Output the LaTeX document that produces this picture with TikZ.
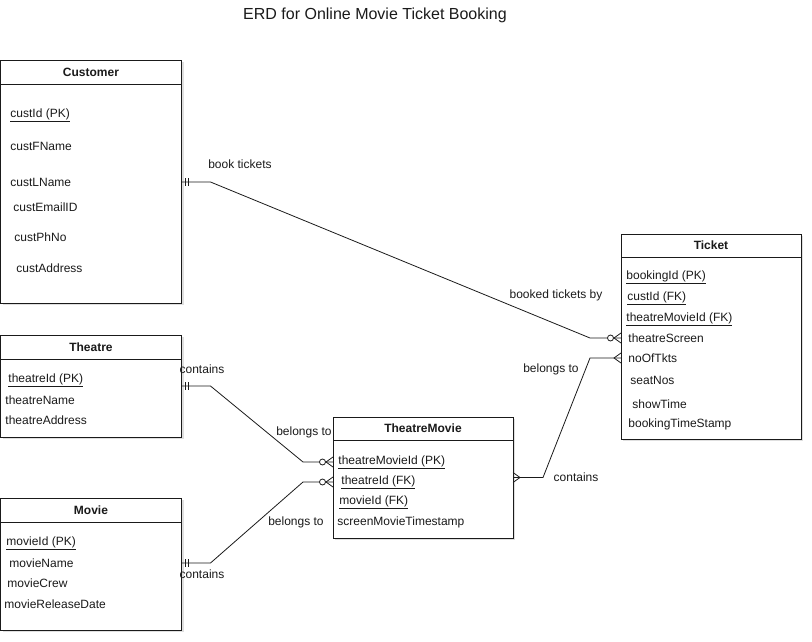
\documentclass[tikz,border=0pt]{standalone}
\usepackage{fontspec}
\setmainfont{Liberation Sans}
\usetikzlibrary{calc,shadows}
\definecolor{erline}{HTML}{1A1A1A}

\begin{document}
\begin{tikzpicture}[x=1pt,y=-1pt,font=\fontsize{12}{14}\selectfont,line width=0.9pt,color=erline]

\tikzset{
ent/.style={
    draw,
    fill=white,
    minimum width=181pt,
    inner sep=0pt,
    outer sep=0pt,
    anchor=north west,
    drop shadow={shadow xshift=2pt,shadow yshift=-2pt,opacity=0.25}
},
hdr/.style={
    draw,
    minimum width=181pt,
    minimum height=24pt,
    inner sep=0pt,
    outer sep=0pt,
    anchor=north west,
    font=\fontsize{12}{14}\selectfont\bfseries
},
attr/.style={anchor=west,inner sep=0pt},
lbl/.style={inner sep=0pt},
rel/.style={draw,line width=0.8pt},
pics/one/.style={code={\draw[line width=0.8pt] (4,-4)--(4,4) (7,-4)--(7,4);}},
pics/many/.style={code={\draw[line width=0.8pt] (0,-5)--(7,0)--(0,5);}},
pics/zmany/.style={code={
    \draw[line width=0.8pt] (0,-5)--(7,0)--(0,5);
    \draw[line width=0.8pt,fill=white] (10.5,0) circle (3pt);
}}
}

\useasboundingbox (0,0) rectangle (812,642);

\node (title) at (375,15) {\fontsize{16}{19}\selectfont ERD for Online Movie Ticket Booking};

% entities
\node[ent,minimum height=243pt] (cust) at (0.5,60) {};
\node[hdr] (custh) at (cust.north west) {Customer};
\node[attr] (cid) at (10,115) {\underline{custId (PK)}};
\node[attr] (cfn) at (10,146) {custFName};
\node[attr] (cln) at (10,182) {custLName};
\node[attr] (cem) at (13,207) {custEmailID};
\node[attr] (cph) at (14,237) {custPhNo};
\node[attr] (cad) at (16,268) {custAddress};

\node[ent,minimum width=180pt,minimum height=205pt] (tkt) at (621,234) {};
\node[hdr,minimum width=180pt,minimum height=23pt] (tkth) at (tkt.north west) {Ticket};
\node[attr] (tbid) at (626,277) {\underline{bookingId (PK)}};
\node[attr] (tcid) at (627,298) {\underline{custId (FK)}};
\node[attr] (ttm) at (626,319) {\underline{theatreMovieId (FK)}};
\node[attr] (tsc) at (628,338) {theatreScreen};
\node[attr] (tno) at (628,358) {noOfTkts};
\node[attr] (tsn) at (630,380) {seatNos};
\node[attr] (tst) at (632,404) {showTime};
\node[attr] (tbt) at (628,424) {bookingTimeStamp};

\node[ent,minimum height=102pt] (th) at (0.5,335) {};
\node[hdr] (thh) at (th.north west) {Theatre};
\node[attr] (thid) at (8,380) {\underline{theatreId (PK)}};
\node[attr] (thnm) at (5,400) {theatreName};
\node[attr] (thad) at (5,420) {theatreAddress};

\node[ent,minimum width=180pt,minimum height=121pt] (tm) at (333,417) {};
\node[hdr,minimum width=180pt,minimum height=23pt] (tmh) at (tm.north west) {TheatreMovie};
\node[attr] (tmid) at (338,462) {\underline{theatreMovieId (PK)}};
\node[attr] (tmth) at (341,482) {\underline{theatreId (FK)}};
\node[attr] (tmmv) at (339,502) {\underline{movieId (FK)}};
\node[attr] (tmts) at (337,522) {screenMovieTimestamp};

\node[ent,minimum height=132pt] (mv) at (0.5,498) {};
\node[hdr] (mvh) at (mv.north west) {Movie};
\node[attr] (mvid) at (6,543) {\underline{movieId (PK)}};
\node[attr] (mvnm) at (9,563) {movieName};
\node[attr] (mvcr) at (7,583) {movieCrew};
\node[attr] (mvrd) at (4,604) {movieReleaseDate};

% relationships
\draw[rel] (cust.east |- cln) -- ++(29,0) -- ($(tkt.west |- tsc)+(-31,0)$) -- (tkt.west |- tsc);
\pic at (cust.east |- cln) {one};
\pic[rotate=180] at (tkt.west |- tsc) {zmany};

\draw[rel] (tkt.west |- tno) -- ++(-31,0) -- ($(tm.east)+(30,0)$) -- (tm.east);
\pic[rotate=180] at (tkt.west |- tno) {many};
\pic at (tm.east) {many};

\draw[rel] (th.east) -- ++(29,0) -- ($(tm.west |- tmid)+(-30,0)$) -- (tm.west |- tmid);
\pic at (th.east) {one};
\pic[rotate=180] at (tm.west |- tmid) {zmany};

\draw[rel] (mv.east |- mvnm) -- ++(29,0) -- ($(tm.west |- tmth)+(-30,0)$) -- (tm.west |- tmth);
\pic at (mv.east |- mvnm) {one};
\pic[rotate=180] at (tm.west |- tmth) {zmany};

% labels
\node[lbl] (l1) at (240,164) {book tickets};
\node[lbl] (l2) at (556,295) {booked tickets by};
\node[lbl] (l3) at (202,369) {contains};
\node[lbl] (l4) at (304,432) {belongs to};
\node[lbl] (l5) at (296,522) {belongs to};
\node[lbl] (l6) at (202,574) {contains};
\node[lbl] (l7) at (551,369) {belongs to};
\node[lbl] (l8) at (576,477) {contains};

\end{tikzpicture}
\end{document}
